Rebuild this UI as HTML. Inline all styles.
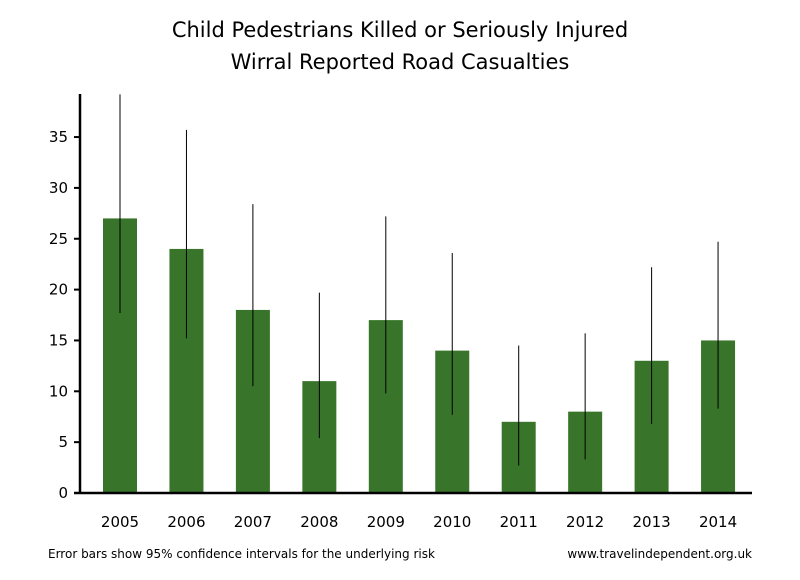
<!DOCTYPE html>
<html><head><meta charset="utf-8"><style>
body{margin:0;background:#fff;}
svg{display:block;font-family:"DejaVu Sans","Liberation Sans",sans-serif;}
</style></head><body>
<svg id="chart" width="800" height="580" xmlns="http://www.w3.org/2000/svg">
<text x="400" y="37" text-anchor="middle" font-size="21" fill="#000">Child Pedestrians Killed or Seriously Injured</text>
<text x="400" y="69" text-anchor="middle" font-size="21" fill="#000">Wirral Reported Road Casualties</text>
<g id="bars"></g><g id="errs"></g><g id="axes"></g>
<text x="48" y="558" font-size="12" fill="#000">Error bars show 95% confidence intervals for the underlying risk</text>
<text x="752" y="558" text-anchor="end" font-size="12" fill="#000">www.travelindependent.org.uk</text>
</svg>
<script>
const categories=["2005","2006","2007","2008","2009","2010","2011","2012","2013","2014"];
const values=[27,24,18,11,17,14,7,8,13,15];
const upper=[39.2,35.7,28.4,19.7,27.2,23.6,14.5,15.7,22.2,24.7];
const lower=[17.7,15.2,10.5,5.4,9.8,7.7,2.7,3.3,6.8,8.3];
const yTicks=[0,5,10,15,20,25,30,35];
const NS="http://www.w3.org/2000/svg";
const y0=493,pxPer=10.17,x0=120,step=66.45,bw=34;
const y=v=>y0-v*pxPer, x=i=>x0+i*step;
function mk(t,a,p){const e=document.createElementNS(NS,t);for(const k in a)e.setAttribute(k,a[k]);p.appendChild(e);return e;}
const bars=document.getElementById('bars'),errs=document.getElementById('errs'),axes=document.getElementById('axes');
values.forEach((v,i)=>{
 const r=mk('rect',{x:x(i)-bw/2,y:y(v),width:bw,height:y0-y(v),fill:'#38752a'},bars);
 
 
 const l=mk('line',{x1:x(i),x2:x(i),y1:y(upper[i]),y2:y(lower[i]),stroke:'#000','stroke-width':1},errs);
 
 
 const t=mk('text',{x:x(i),y:527,'text-anchor':'middle','font-size':15,fill:'#000'},axes);
 t.textContent=categories[i];
 
 
});
const ya=mk('line',{x1:80,x2:80,y1:94,y2:y0+1,stroke:'#000','stroke-width':2.5},axes);


const xa=mk('line',{x1:74,x2:752,y1:y0,y2:y0,stroke:'#000','stroke-width':2.5},axes);


yTicks.forEach(v=>{
 const tk=mk('line',{x1:74,x2:80,y1:y(v),y2:y(v),stroke:'#000','stroke-width':2},axes);
 
 
 const t=mk('text',{x:68,y:y(v)+5,'text-anchor':'end','font-size':15,fill:'#000'},axes);
 t.textContent=v;
 
 
});
</script>
</body></html>
